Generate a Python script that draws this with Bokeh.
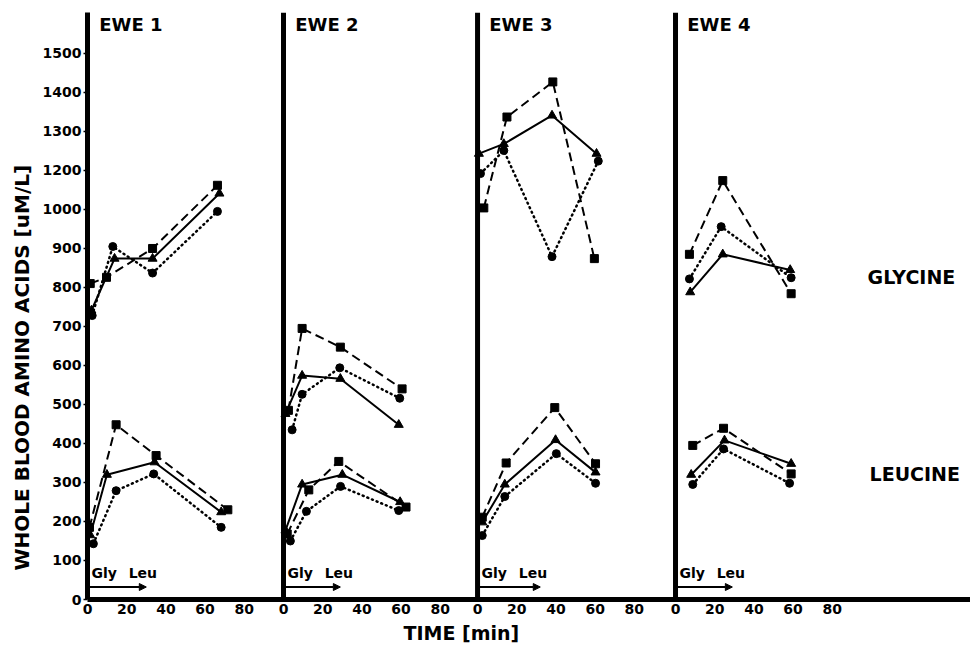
from bokeh.plotting import figure
from bokeh.models import Range1d, FixedTicker, Label, Arrow, NormalHead, Span, Title
from bokeh.embed import file_html
from bokeh.resources import INLINE

# ---------------- data ----------------
ewe_names = ["EWE 1", "EWE 2", "EWE 3", "EWE 4"]
x_tick_values = [0, 20, 40, 60, 80]
y_tick_values = [0, 100, 200, 300, 400, 500, 600, 700, 800, 900, 1000, 1100, 1200, 1300, 1400]
y_tick_labels = ["0", "100", "200", "300", "400", "500", "600", "700", "800", "900",
                 "1000", "1200", "1300", "1400", "1500"]

# GLYCINE  (dashed + squares, solid + triangles, dotted + circles)
gly_dash_t = [[1.4, 9.7, 33.2, 66.3], [2.5, 9.5, 29.0, 60.5], [3.2, 15.0, 38.4, 59.6], [7.1, 24.1, 59.0]]
gly_dash_v = [[810, 826, 900, 1062], [485, 695, 647, 540], [1004, 1237, 1327, 874], [885, 1074, 784]]
gly_solid_t = [[2.0, 13.8, 33.2, 67.3], [1.0, 9.5, 29.0, 58.8], [0.7, 13.4, 38.0, 60.7], [7.5, 24.1, 58.5]]
gly_solid_v = [[741, 874, 874, 1041], [476, 574, 566, 448], [1143, 1168, 1241, 1143], [788, 885, 845]]
gly_dot_t = [[2.4, 12.9, 33.2, 66.3], [4.4, 9.5, 28.7, 59.3], [1.5, 13.4, 38.0, 61.6], [7.1, 23.3, 59.0]]
gly_dot_v = [[728, 905, 837, 995], [435, 526, 594, 516], [1092, 1151, 879, 1124], [822, 956, 825]]

# LEUCINE
leu_dash_t = [[1.0, 14.6, 35.0, 71.6], [1.9, 12.9, 28.2, 62.5], [2.4, 14.6, 39.4, 60.2], [8.8, 24.5, 59.0]]
leu_dash_v = [[185, 448, 369, 230], [168, 281, 354, 237], [211, 350, 492, 348], [395, 439, 322]]
leu_solid_t = [[1.4, 9.9, 34.2, 68.2], [1.0, 9.5, 30.0, 59.5], [2.4, 13.9, 39.8, 60.2], [8.0, 25.0, 59.0]]
leu_solid_v = [[165, 320, 352, 224], [177, 295, 320, 250], [198, 295, 409, 326], [320, 408, 348]]
leu_dot_t = [[3.0, 14.6, 33.8, 68.2], [3.5, 11.7, 29.1, 58.8], [2.4, 13.9, 40.2, 60.2], [8.8, 24.5, 58.2]]
leu_dot_v = [[143, 279, 322, 185], [150, 226, 290, 228], [164, 264, 374, 298], [295, 386, 298]]

# infusion arrow (Gly, Leu) start / end, minutes
infusion_start = [0, 0, 0, 0]
infusion_end = [30, 29, 32, 29]

# ---------------- layout ----------------
panel_offset = [0, 100, 199, 300]      # where each ewe's time axis starts on the shared axis
X_END = 450.5
Y_END = 1505
FONT = "DejaVu Sans"

p = figure(width=970, height=655, x_range=Range1d(0, X_END), y_range=Range1d(0, Y_END),
           output_backend="svg", toolbar_location=None,
           min_border_left=87, min_border_right=0, min_border_top=12, min_border_bottom=56)
p.grid.visible = False
p.outline_line_color = None
p.background_fill_color = "white"
p.border_fill_color = "white"

for k, off in enumerate(panel_offset):
    p.extra_x_ranges[f"e{k}"] = Range1d(-off, X_END - off)

# x axis: shared line, per-panel tick labels
xt = []
xover = {}
for off in panel_offset:
    for t in x_tick_values:
        xt.append(off + t)
        xover[off + t] = str(t)
p.xaxis.ticker = FixedTicker(ticks=xt)
p.xaxis.major_label_overrides = xover
p.xaxis.axis_line_width = 5
p.xaxis.major_tick_out = 0
p.xaxis.major_tick_in = 0
p.xaxis.minor_tick_out = 0
p.xaxis.minor_tick_in = 0
p.xaxis.major_label_standoff = 4
p.xaxis.major_label_text_font = FONT
p.xaxis.major_label_text_font_style = "bold"
p.xaxis.major_label_text_font_size = "14px"
p.xaxis.major_label_text_color = "black"

p.yaxis.ticker = FixedTicker(ticks=y_tick_values)
p.yaxis.major_label_overrides = {v: s for v, s in zip(y_tick_values, y_tick_labels)}
p.yaxis.axis_line_width = 5
p.yaxis.major_tick_out = 4
p.yaxis.major_tick_in = 0
p.yaxis.major_tick_line_width = 1.5
p.yaxis.minor_tick_out = 0
p.yaxis.minor_tick_in = 0
p.yaxis.major_label_standoff = 2
p.yaxis.major_label_text_font = FONT
p.yaxis.major_label_text_font_style = "bold"
p.yaxis.major_label_text_font_size = "14px"
p.yaxis.major_label_text_color = "black"

# axis titles
p.add_layout(Title(text="WHOLE BLOOD AMINO ACIDS [uM/L]", align="left", offset=29,
                   text_font=FONT, text_font_style="bold", text_font_size="20px",
                   text_color="black", standoff=12), "left")
p.add_layout(Title(text="TIME [min]", align="left", offset=316,
                   text_font=FONT, text_font_style="bold", text_font_size="19px",
                   text_color="black", standoff=6), "below")

# panel vertical axes for ewes 2-4
for k in range(1, 4):
    p.add_layout(Span(location=0, dimension="height", line_width=5, line_color="black",
                      x_range_name=f"e{k}"))

styles = [("dashed", "9 5", "square", 8), ("solid", "solid", "triangle", 9), ("dotted", "1 4", "circle", 8)]
series = [
    (gly_dash_t, gly_dash_v, leu_dash_t, leu_dash_v),
    (gly_solid_t, gly_solid_v, leu_solid_t, leu_solid_v),
    (gly_dot_t, gly_dot_v, leu_dot_t, leu_dot_v),
]

for (name, dash, marker, size), (gt, gv, lt, lv) in zip(styles, series):
    for k in range(4):
        rn = f"e{k}"
        for tt, vv in ((gt[k], gv[k]), (lt[k], lv[k])):
            lw = 2.5 if name == "dotted" else 2
            p.line(tt, vv, x_range_name=rn, line_color="black", line_width=lw,
                   line_dash=dash, line_cap="round" if name == "dotted" else "butt")
            p.scatter(tt, vv, x_range_name=rn, marker=marker, size=size,
                      fill_color="black", line_color="black")

# labels
for k in range(4):
    rn = f"e{k}"
    p.add_layout(Label(x=6, y=1474, x_range_name=rn, text=ewe_names[k], text_font=FONT,
                       text_font_style="bold", text_font_size="18px", text_baseline="middle",
                       text_color="black"))
    p.add_layout(Label(x=2, y=67, x_range_name=rn, text="Gly", text_font=FONT,
                       text_font_style="bold", text_font_size="14px", text_baseline="middle",
                       text_color="black"))
    p.add_layout(Label(x=21, y=67, x_range_name=rn, text="Leu", text_font=FONT,
                       text_font_style="bold", text_font_size="14px", text_baseline="middle",
                       text_color="black"))
    p.add_layout(Arrow(end=NormalHead(size=7, fill_color="black", line_color="black"),
                       x_start=infusion_start[k], y_start=32, x_end=infusion_end[k], y_end=32,
                       line_width=2, line_color="black", x_range_name=rn))

p.add_layout(Label(x=98, y=828, x_range_name="e3", text="GLYCINE", text_font=FONT,
                   text_font_style="bold", text_font_size="19px", text_baseline="middle",
                   text_color="black"))
p.add_layout(Label(x=99, y=323, x_range_name="e3", text="LEUCINE", text_font=FONT,
                   text_font_style="bold", text_font_size="19px", text_baseline="middle",
                   text_color="black"))

open("out.html", "w").write(file_html(p, INLINE))
